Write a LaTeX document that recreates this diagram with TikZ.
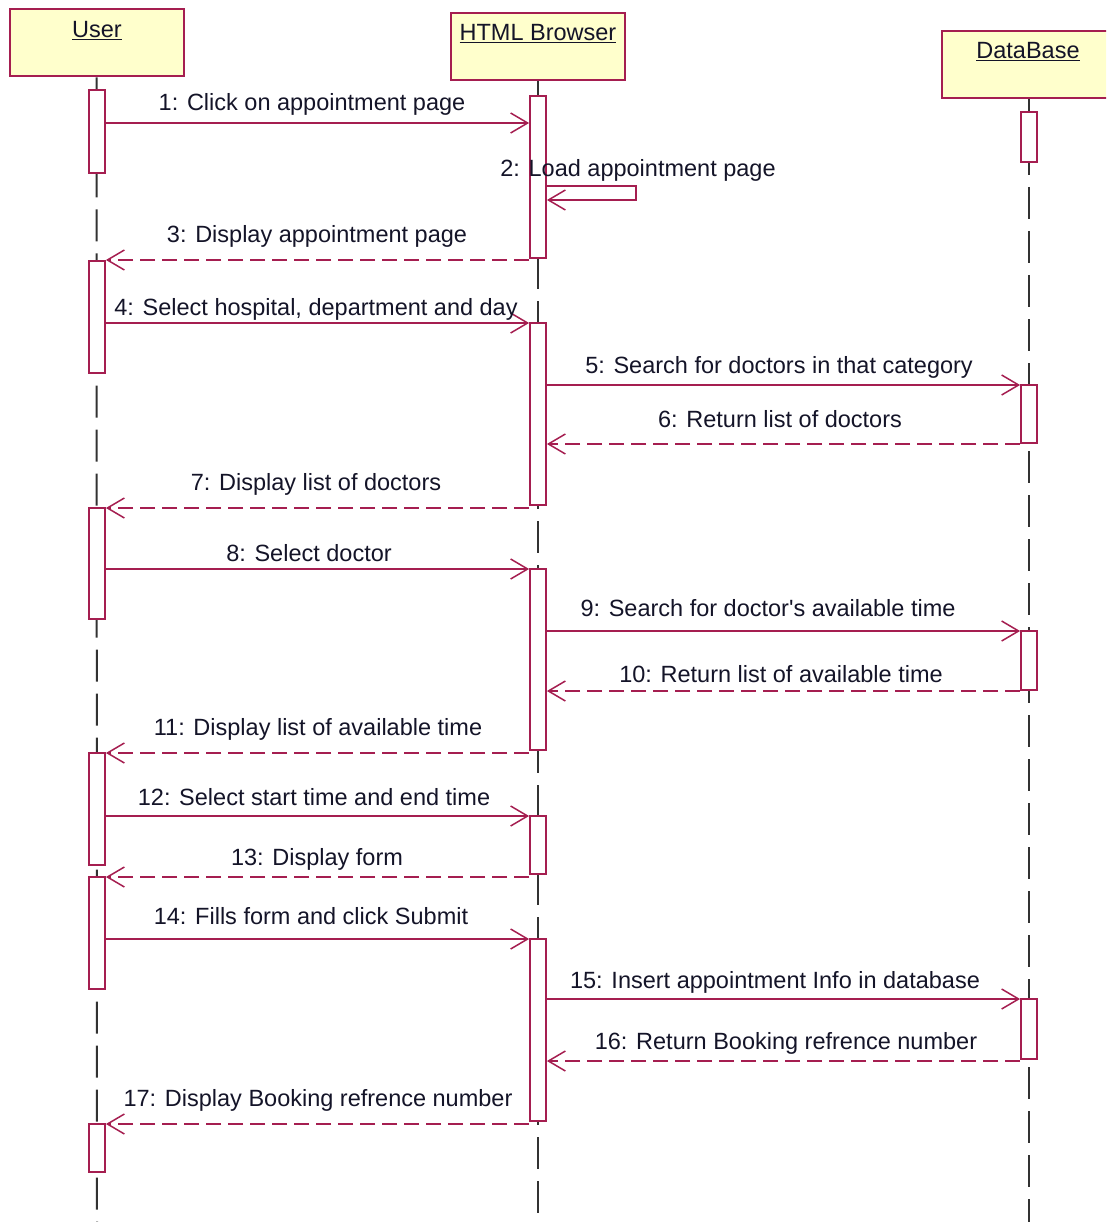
\documentclass[tikz,border=0pt]{standalone}
\usepackage{fontspec}
\setmainfont{Liberation Sans}[Ligatures=TeXOff]
\usetikzlibrary{arrows.meta}
\definecolor{umlred}{RGB}{165,30,80}
\definecolor{umlfill}{RGB}{255,255,204}
\definecolor{lifegray}{RGB}{50,50,50}
\definecolor{txt}{RGB}{20,20,40}
\tikzset{
  headbox/.style={draw=umlred, fill=umlfill, line width=2pt, minimum width=174pt, minimum height=67pt, inner sep=0pt},
  headtext/.style={anchor=base, text=txt, inner sep=0pt, font=\fontsize{23.5}{27}\selectfont},
  act/.style={draw=umlred, fill=white, line width=1.8pt, minimum width=16pt, inner sep=0pt},
  life/.style={draw=lifegray, line width=2pt, dash pattern=on 32pt off 12pt},
  msg/.style={draw=umlred, line width=1.8pt, -{Straight Barb[length=17pt,width=20pt,line width=1.5pt]}},
  ret/.style={msg, dash pattern=on 15pt off 7pt},
  lbl/.style={anchor=base, text=txt, inner sep=0pt, font=\fontsize{23.5}{27}\selectfont}
}
\begin{document}
\begin{tikzpicture}[x=1pt,y=-1pt]
\useasboundingbox (0,0) rectangle (1106,1222);
\clip (0,0) rectangle (1106,1222);
% heads
\node[headbox] (user) at (96.5,43) {};
\node[headbox] (browser) at (538,46.5) {};
\node[headbox] (db) at (1029,64.5) {};
\node[headtext] (usert) at (97,38) {\underline{User}};
\node[headtext] (browsert) at (538,41) {\underline{HTML Browser}};
\node[headtext] (dbt) at (1028,59) {\underline{DataBase}};
% lifelines
\coordinate (uend) at (97,1222);
\coordinate (bend) at (538,1222);
\coordinate (dend) at (1029,1222);
\draw[life] (user.south) -- (uend);
\draw[life] (browser.south) -- (bend);
\draw[life] (db.south) -- (dend);
% activations
\node[act, minimum height=83pt] (u1) at (97,131.5) {};
\node[act, minimum height=112pt] (u2) at (97,317) {};
\node[act, minimum height=111pt] (u3) at (97,563.5) {};
\node[act, minimum height=112pt] (u4) at (97,809) {};
\node[act, minimum height=112pt] (u5) at (97,933) {};
\node[act, minimum height=48pt] (u6) at (97,1148) {};
\node[act, minimum height=162pt] (b1) at (538,177) {};
\node[act, minimum height=182pt] (b2) at (538,414) {};
\node[act, minimum height=181pt] (b3) at (538,659.5) {};
\node[act, minimum height=58pt] (b4) at (538,845) {};
\node[act, minimum height=182pt] (b5) at (538,1030) {};
\node[act, minimum height=50pt] (d1) at (1029,137) {};
\node[act, minimum height=58pt] (d2) at (1029,414) {};
\node[act, minimum height=59pt] (d3) at (1029,660.5) {};
\node[act, minimum height=60pt] (d4) at (1029,1029) {};
% messages
\draw[msg] (u1.east |- 0,123) -- (b1.west |- 0,123);
\node[lbl] (l1) at (312,111) {1: Click on appointment page};
\coordinate (s1) at (636,186);
\coordinate (s2) at (636,200);
\draw[msg] (b1.east |- 0,186) -- (s1) -- (s2) -- (b1.east |- 0,200);
\node[lbl] (l2) at (638,177) {2: Load appointment page};
\draw[ret] (b1.west |- 0,260) -- (u2.east |- 0,260);
\node[lbl] (l3) at (317,243) {3: Display appointment page};
\draw[msg] (u2.east |- 0,323) -- (b2.west |- 0,323);
\node[lbl] (l4) at (316,316) {4: Select hospital, department and day};
\draw[msg] (b2.east |- 0,385) -- (d2.west |- 0,385);
\node[lbl] (l5) at (779,373) {5: Search for doctors in that category};
\draw[ret] (d2.west |- 0,444) -- (b2.east |- 0,444);
\node[lbl] (l6) at (780,427) {6: Return list of doctors};
\draw[ret] (b2.west |- 0,508) -- (u3.east |- 0,508);
\node[lbl] (l7) at (316,490) {7: Display list of doctors};
\draw[msg] (u3.east |- 0,569) -- (b3.west |- 0,569);
\node[lbl] (l8) at (309,561) {8: Select doctor};
\draw[msg] (b3.east |- 0,631) -- (d3.west |- 0,631);
\node[lbl] (l9) at (768,616) {9: Search for doctor's available time};
\draw[ret] (d3.west |- 0,691) -- (b3.east |- 0,691);
\node[lbl] (l10) at (781,682) {10: Return list of available time};
\draw[ret] (b3.west |- 0,753) -- (u4.east |- 0,753);
\node[lbl] (l11) at (318,735) {11: Display list of available time};
\draw[msg] (u4.east |- 0,816) -- (b4.west |- 0,816);
\node[lbl] (l12) at (314,805) {12: Select start time and end time};
\draw[ret] (b4.west |- 0,877) -- (u5.east |- 0,877);
\node[lbl] (l13) at (317,865) {13: Display form};
\draw[msg] (u5.east |- 0,939) -- (b5.west |- 0,939);
\node[lbl] (l14) at (311,924) {14: Fills form and click Submit};
\draw[msg] (b5.east |- 0,999) -- (d4.west |- 0,999);
\node[lbl] (l15) at (775,988) {15: Insert appointment Info in database};
\draw[ret] (d4.west |- 0,1061) -- (b5.east |- 0,1061);
\node[lbl] (l16) at (786,1049) {16: Return Booking refrence number};
\draw[ret] (b5.west |- 0,1124) -- (u6.east |- 0,1124);
\node[lbl] (l17) at (318,1106) {17: Display Booking refrence number};
\end{tikzpicture}
\end{document}
